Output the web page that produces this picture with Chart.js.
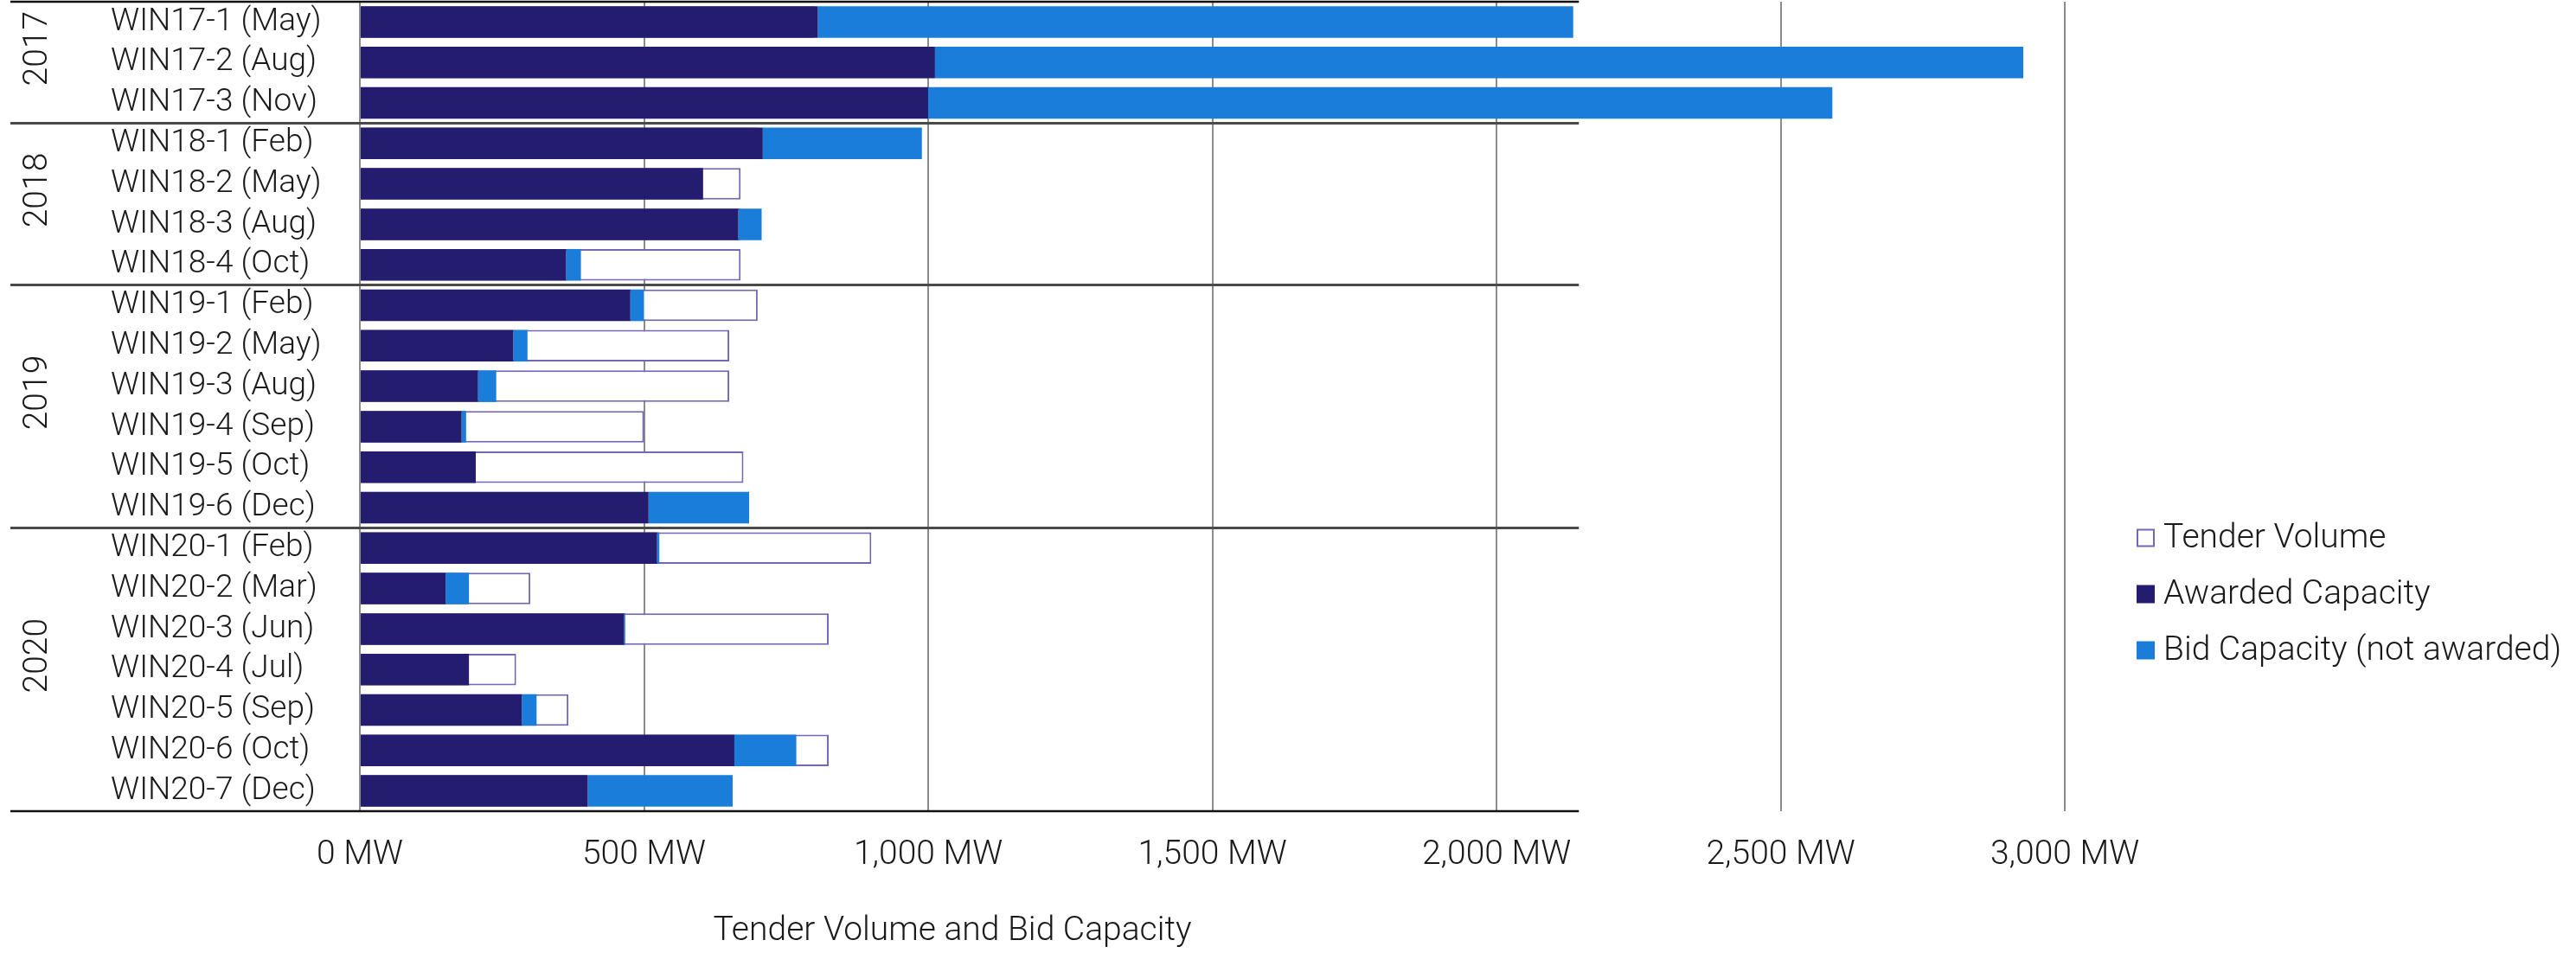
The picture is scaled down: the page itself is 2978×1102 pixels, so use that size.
<!DOCTYPE html>
<html>
<head>
<meta charset="utf-8">
<title>Tender Volume and Bid Capacity</title>
<script src="https://cdn.jsdelivr.net/npm/chart.js@4.4.1/dist/chart.umd.min.js"></script>
<style>
  html, body { margin: 0; padding: 0; background: #ffffff; }
  #tenderChart { display: block; }
</style>
</head>
<body>
<canvas id="tenderChart" width="2978" height="1102"></canvas>
<script>
// rounds, top to bottom
const rounds = [
  'WIN17-1 (May)', 'WIN17-2 (Aug)', 'WIN17-3 (Nov)',
  'WIN18-1 (Feb)', 'WIN18-2 (May)', 'WIN18-3 (Aug)', 'WIN18-4 (Oct)',
  'WIN19-1 (Feb)', 'WIN19-2 (May)', 'WIN19-3 (Aug)', 'WIN19-4 (Sep)', 'WIN19-5 (Oct)', 'WIN19-6 (Dec)',
  'WIN20-1 (Feb)', 'WIN20-2 (Mar)', 'WIN20-3 (Jun)', 'WIN20-4 (Jul)', 'WIN20-5 (Sep)', 'WIN20-6 (Oct)', 'WIN20-7 (Dec)'
]
const years = ['2017', '2018', '2019', '2020']
const roundsPerYear = [3, 4, 6, 7]

// MW
const tenderVolume = [800, 1000, 1000, 700, 670, 670, 670, 700, 650, 650, 500, 675, 500, 900, 300, 825, 275, 367, 825, 400]
const awardedCapacity = [806, 1012, 1000, 709, 604, 666, 363, 476, 270, 208, 179, 204, 508, 523, 151, 465, 192, 285, 659, 401]
const bidNotAwarded = [1329, 1915, 1591, 280, 0, 41, 26, 24, 25, 32, 8, 0, 177, 4, 41, 2, 0, 26, 109, 255]

const xTicks = [0, 500, 1000, 1500, 2000, 2500, 3000]

const FONT = "Roboto, 'Liberation Sans', Arial, sans-serif"
const TEXT = '#1a1a1a'
const NAVY = '#231c6f'
const BLUE = '#1a7dd9'
const LAVENDER = '#7268b6'

Chart.defaults.font.family = FONT
Chart.defaults.font.size = 39
Chart.defaults.font.weight = '300'
Chart.defaults.color = TEXT

// horizontal rules between the years + year labels
const yearGroups = {
  id: 'yearGroups',
  afterDraw(chart) {
    const ctx = chart.ctx
    const y = chart.scales.y
    const x = chart.scales.x
    const area = chart.chartArea
    const lineEnd = x.getPixelForValue(2145)

    const edge = (k) => {
      if (k <= 0) return area.top
      if (k >= rounds.length) return area.bottom
      return (y.getPixelForValue(k - 1) + y.getPixelForValue(k)) / 2
    }

    let start = 0
    const bounds = [0]
    roundsPerYear.forEach(n => { start += n; bounds.push(start) })

    ctx.save()
    bounds.forEach((k, i) => {
      const py = edge(k)
      const outer = i === 0 || i === bounds.length - 1
      ctx.beginPath()
      ctx.strokeStyle = outer ? '#111111' : '#4a4a4a'
      ctx.lineWidth = outer ? 2.5 : 3
      ctx.moveTo(12, py)
      ctx.lineTo(lineEnd, py)
      ctx.stroke()
    })

    ctx.fillStyle = TEXT
    ctx.font = '300 39px ' + FONT
    ctx.textAlign = 'center'
    ctx.textBaseline = 'middle'
    years.forEach((yr, i) => {
      const mid = (edge(bounds[i]) + edge(bounds[i + 1])) / 2 - 16
      ctx.save()
      ctx.translate(44, mid)
      ctx.rotate(-Math.PI / 2)
      ctx.fillText(yr, 0, 0)
      ctx.restore()
    })

    // axis title
    ctx.textAlign = 'center'
    ctx.fillText('Tender Volume and Bid Capacity', 1101, 1077)
    ctx.restore()
  }
}

// legend on the right
const sideLegend = {
  id: 'sideLegend',
  afterDraw(chart) {
    const ctx = chart.ctx
    ctx.save()
    ctx.font = '300 39px ' + FONT
    ctx.textAlign = 'left'
    ctx.textBaseline = 'middle'
    chart.data.datasets.forEach((ds, i) => {
      const cy = 622 + i * 65
      ctx.fillStyle = ds.backgroundColor
      ctx.fillRect(2470, cy - 10.5, 21, 21)
      if (ds.borderWidth) {
        ctx.strokeStyle = ds.borderColor
        ctx.lineWidth = 2
        ctx.strokeRect(2471, cy - 9.5, 19, 19)
      }
      ctx.fillStyle = TEXT
      ctx.fillText(ds.label, 2501, cy + 1)
    })
    ctx.restore()
  }
}

const chart = new Chart(document.getElementById('tenderChart'), {
  type: 'bar',
  data: {
    labels: rounds,
    datasets: [
      {
        label: 'Tender Volume',
        data: tenderVolume,
        stack: 'tender',
        grouped: false,
        order: 3,
        backgroundColor: '#ffffff',
        borderColor: LAVENDER,
        borderWidth: 2,
        borderSkipped: false
      },
      {
        label: 'Awarded Capacity',
        data: awardedCapacity,
        stack: 'bids',
        grouped: false,
        order: 1,
        backgroundColor: NAVY,
        borderWidth: 0
      },
      {
        label: 'Bid Capacity (not awarded)',
        data: bidNotAwarded,
        stack: 'bids',
        grouped: false,
        order: 2,
        backgroundColor: BLUE,
        borderWidth: 0
      }
    ]
  },
  options: {
    indexAxis: 'y',
    responsive: false,
    animation: false,
    events: [],
    layout: { padding: { left: 128, top: 2, right: 591, bottom: 0 } },
    datasets: {
      bar: { categoryPercentage: 1, barPercentage: 0.78 }
    },
    plugins: {
      legend: { display: false },
      tooltip: { enabled: false }
    },
    scales: {
      x: {
        stacked: true,
        min: 0,
        max: 3000,
        afterBuildTicks(s) { s.ticks = xTicks.map(v => ({ value: v })) },
        afterFit(s) { s.height = 164 },
        grid: { color: '#8c8c8c', lineWidth: 2, drawTicks: false },
        border: { display: false },
        ticks: {
          padding: 28,
          color: TEXT,
          callback: v => v.toLocaleString('en-US') + ' MW'
        }
      },
      y: {
        stacked: true,
        afterFit(s) {
          s.width = 288
          s.paddingTop = 0
          s.paddingBottom = 0
        },
        grid: { display: false, drawTicks: false },
        border: { display: false },
        ticks: {
          autoSkip: false,
          crossAlign: 'far',
          color: TEXT,
          padding: 0,
          font: { size: 37 }
        }
      }
    }
  },
  plugins: [yearGroups, sideLegend]
})
</script>
</body>
</html>
